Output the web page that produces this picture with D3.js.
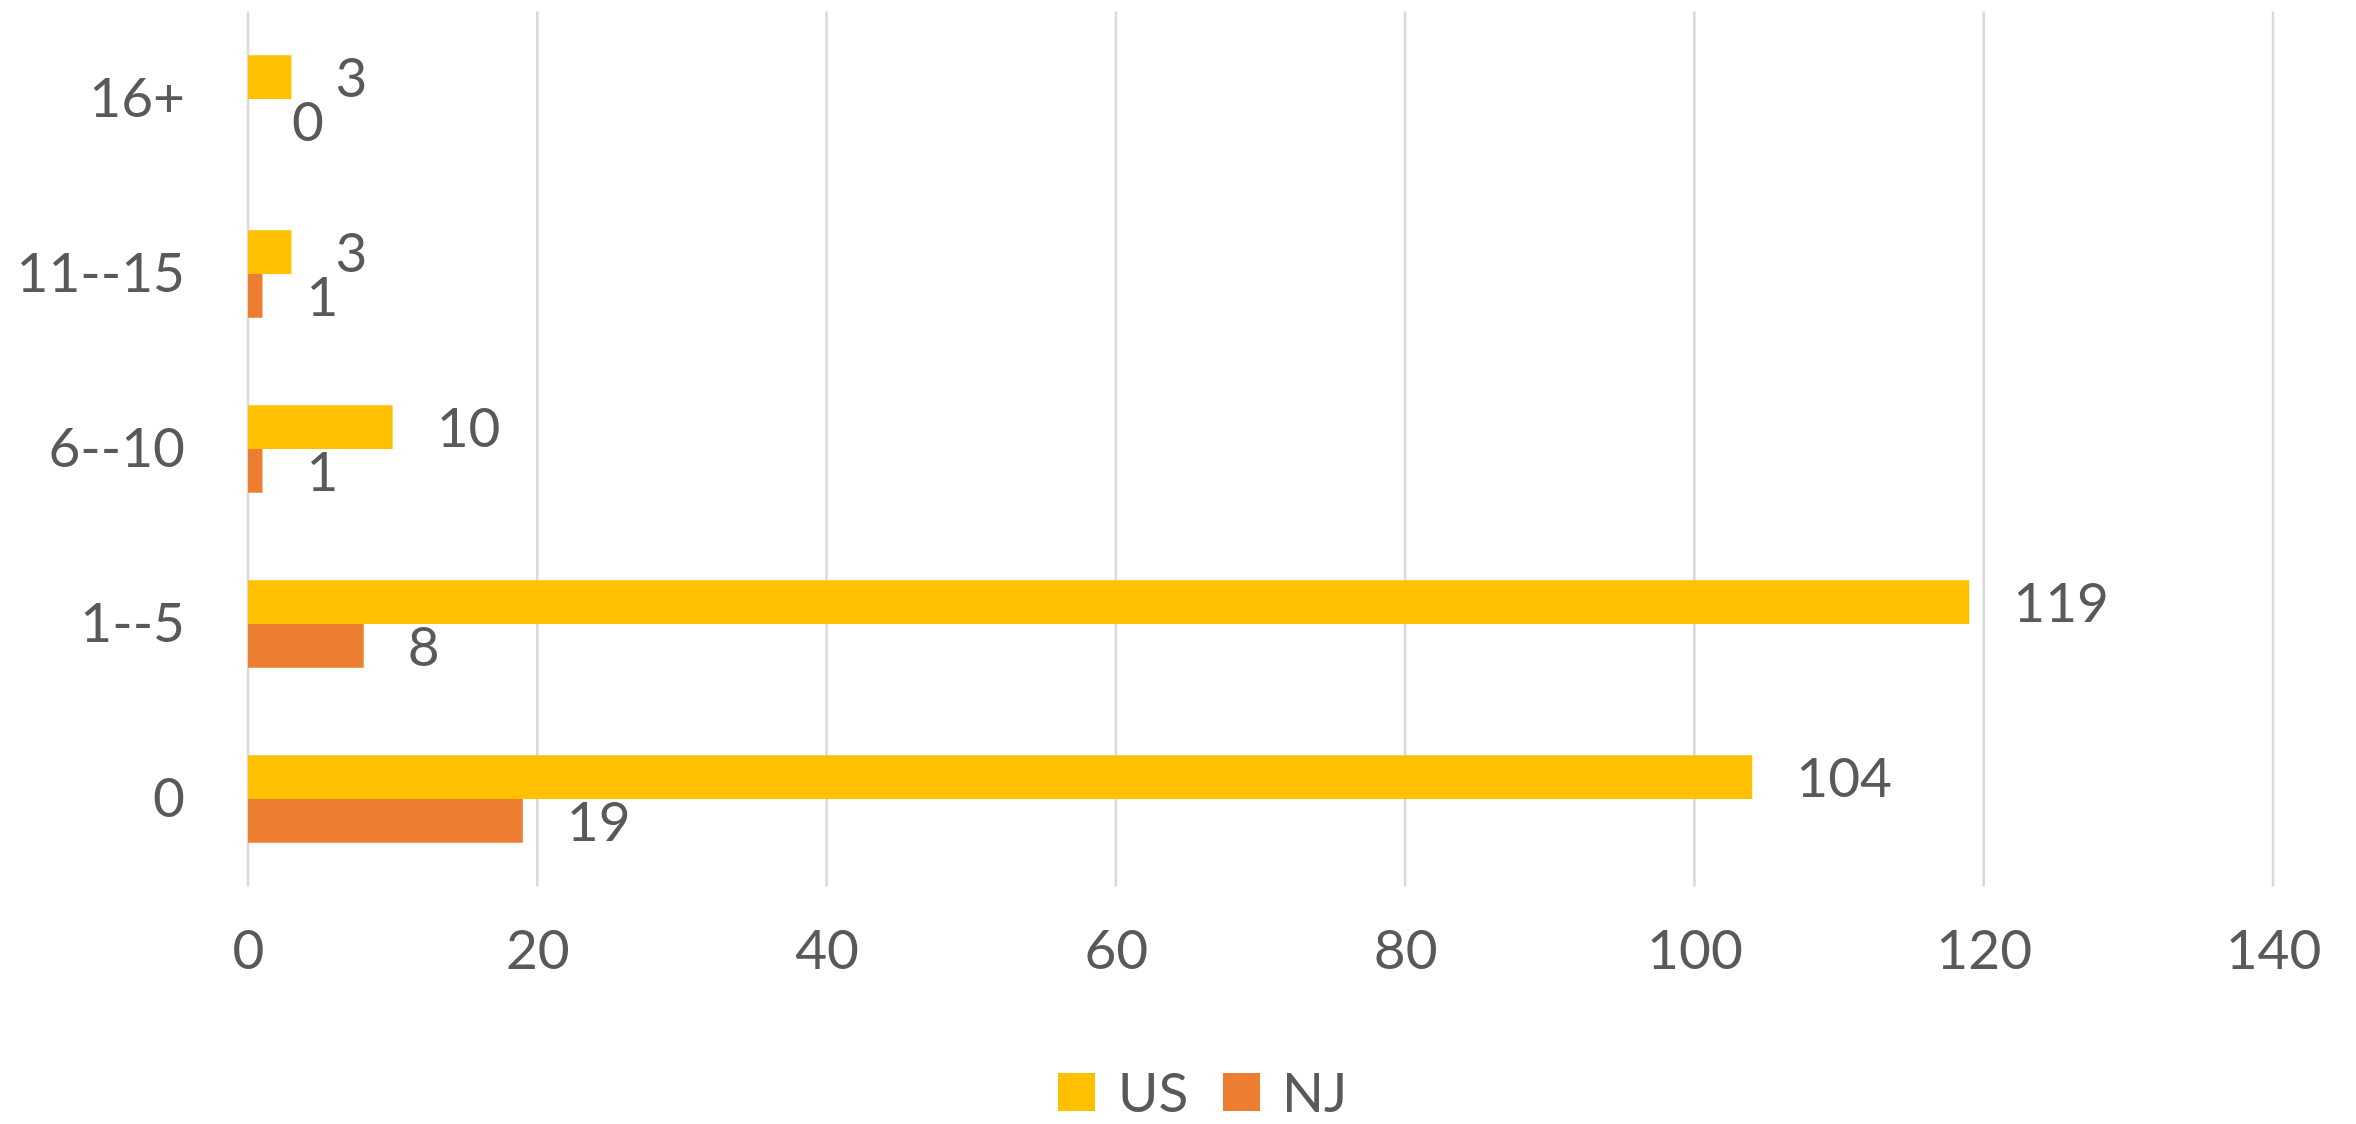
<!DOCTYPE html>
<html>
<head>
<meta charset="utf-8">
<script src="https://cdn.jsdelivr.net/npm/d3@7"></script>
<style>
  html, body { margin: 0; padding: 0; background: #ffffff; }
  svg { display: block; }
  text { font-family: Lato, "Liberation Sans", sans-serif; fill: #595959; }
</style>
</head>
<body>
<svg id="chart" width="2356" height="1124"></svg>
<script>
// ---- data ----
const categories = ["16+", "11--15", "6--10", "1--5", "0"];
const seriesNames = ["US", "NJ"];
const usValues = [3, 3, 10, 119, 104];
const njValues = [0, 1, 1, 8, 19];
const xTicks = [0, 20, 40, 60, 80, 100, 120, 140];
const colors = { US: "#FFC000", NJ: "#ED7D31" };

const rows = categories.map((c, i) => ({ cat: c, US: usValues[i], NJ: njValues[i] }));

const svg = d3.select("#chart");
const fontSize = 55;

const x = d3.scaleLinear().domain([0, 140]).range([248, 2273]);
const y = d3.scaleBand().domain(categories).range([11.5, 886.5])
  .paddingInner(0.5).paddingOuter(0.25);
const ySub = d3.scaleBand().domain(seriesNames).range([0, y.bandwidth()]);

// gridlines
svg.append("g")
  .selectAll("line")
  .data(xTicks)
  .join("line")
  .attr("x1", d => x(d)).attr("x2", d => x(d))
  .attr("y1", 11.5).attr("y2", 886.5)
  .attr("stroke", "#d9d9d9")
  .attr("stroke-width", 2.5);

// x tick labels via axis
const xAxis = svg.append("g")
  .attr("transform", "translate(0,930)")
  .call(d3.axisBottom(x).tickValues(xTicks).tickSize(0).tickPadding(0));
xAxis.select(".domain").remove();
xAxis.selectAll("text")
  .attr("font-size", fontSize)
  .attr("dy", "0.71em")
  .attr("fill", "#595959")
  .style("font-family", "Lato, 'Liberation Sans', sans-serif");

// y category labels via axis
const yAxis = svg.append("g")
  .attr("transform", "translate(185,0)")
  .call(d3.axisLeft(y).tickSize(0).tickPadding(0));
yAxis.select(".domain").remove();
yAxis.selectAll("text")
  .attr("font-size", fontSize)
  .attr("fill", "#595959")
  .style("font-family", "Lato, 'Liberation Sans', sans-serif");

// bars
const groups = svg.append("g")
  .selectAll("g")
  .data(rows)
  .join("g")
  .attr("transform", d => `translate(0,${y(d.cat)})`);

groups.selectAll("rect")
  .data(d => seriesNames.map(s => ({ s, v: d[s] })))
  .join("rect")
  .attr("x", x(0))
  .attr("y", d => ySub(d.s))
  .attr("width", d => x(d.v) - x(0))
  .attr("height", ySub.bandwidth())
  .attr("fill", d => colors[d.s]);

groups.selectAll("text.lbl")
  .data(d => seriesNames.map(s => ({ s, v: d[s] })))
  .join("text")
  .attr("class", "lbl")
  .attr("x", d => x(d.v) + 44)
  .attr("y", d => ySub(d.s) + ySub.bandwidth() / 2)
  .attr("dy", "0.36em")
  .attr("font-size", fontSize)
  .text(d => d.v);

// legend
const legend = svg.append("g").attr("transform", "translate(0,1092)");
const items = [
  { name: "US", sx: 1058, tx: 1118 },
  { name: "NJ", sx: 1223, tx: 1282 }
];
items.forEach(it => {
  legend.append("rect")
    .attr("x", it.sx).attr("y", -19)
    .attr("width", 37).attr("height", 38)
    .attr("fill", colors[it.name]);
  legend.append("text")
    .attr("x", it.tx).attr("y", 0)
    .attr("dy", "0.36em")
    .attr("font-size", fontSize)
    .text(it.name);
});
</script>
</body>
</html>
